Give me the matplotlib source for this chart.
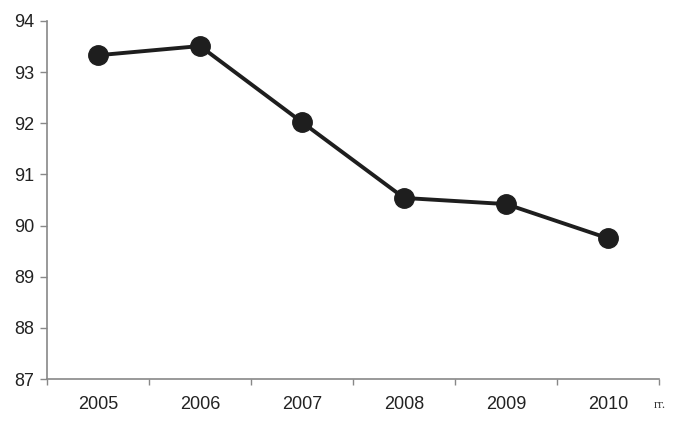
import matplotlib
matplotlib.use("Agg")
import matplotlib.pyplot as plt

years = ["2005", "2006", "2007", "2008", "2009", "2010"]
values = [93.33, 93.51, 92.02, 90.54, 90.42, 89.75]
yticks = [87, 88, 89, 90, 91, 92, 93, 94]

fig = plt.figure(figsize=(6.74, 4.37), dpi=100)
ax = fig.add_axes([0.0697, 0.1327, 0.9083, 0.8193])
x = list(range(len(years)))
ax.plot(x, values, color="#1e1e1e", lw=2.8, marker="o", ms=14,
        markerfacecolor="#1e1e1e", markeredgecolor="#1e1e1e", solid_joinstyle="round")
ax.set_xlim(-0.5, len(years) - 0.5)
ax.set_ylim(87, 94)
ax.set_yticks(yticks)
ax.set_yticklabels([str(t) for t in yticks], fontsize=13, family="Liberation Sans", color="#222")
ax.set_xticks(x)
ax.set_xticklabels(years, fontsize=13, family="Liberation Sans", color="#222")
ax.tick_params(axis="x", length=0, pad=12)
ax.set_xticks([i - 0.5 for i in range(len(years) + 1)], minor=True)
ax.tick_params(axis="x", which="minor", length=4, color="#888", width=1)
ax.tick_params(axis="y", length=5, color="#888", width=1, pad=4)
for s in ["top", "right"]:
    ax.spines[s].set_visible(False)
for s in ["left", "bottom"]:
    ax.spines[s].set_color("#888")
    ax.spines[s].set_linewidth(1.2)
fig.text(0.970, 0.073, "гг.", fontsize=9, family="Liberation Serif", color="#333", ha="left", va="center")
fig.savefig("out.png", dpi=100)
